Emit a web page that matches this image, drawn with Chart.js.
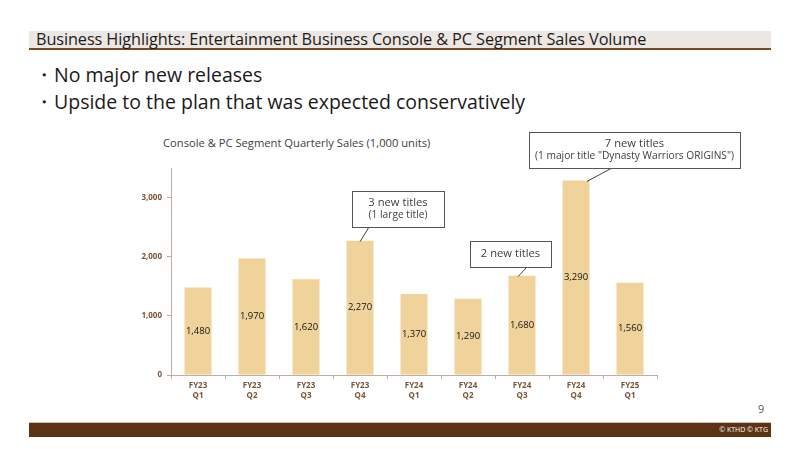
<!DOCTYPE html>
<html>
<head>
<meta charset="utf-8">
<script src="https://cdn.jsdelivr.net/npm/chart.js@4.4.1/dist/chart.umd.min.js"></script>
<style>
  html, body { margin: 0; padding: 0; background: #fff; }
  body { width: 800px; height: 449px; position: relative; overflow: hidden; font-family: "Open Sans", "Noto Sans", sans-serif; }
  #header { position: absolute; left: 29px; top: 31px; width: 742px; height: 17px; background: #ede7e3; border-bottom: 2px solid #7b4a1e; }
  #header span { position: absolute; left: 7px; top: -3px; font-size: 16.3px; color: #1a1a1a; white-space: nowrap; letter-spacing: -0.1px; }
  .bullet { position: absolute; left: 34px; font-size: 19.5px; color: #1a1a1a; white-space: nowrap; }
  #chartTitle { position: absolute; left: 163px; top: 135px; font-size: 11.2px; color: #404040; white-space: nowrap; }
  #pageNo { position: absolute; left: 758px; top: 401px; font-size: 11px; color: #555; }
  #footer { position: absolute; left: 29px; top: 422px; width: 742px; height: 14px; background: #5c3314; border-top: 1px solid #c9c0b8; }
  #footer span { position: absolute; right: 3px; top: 2px; font-size: 7px; color: #fff; }
  #chart { position: absolute; left: 0; top: 0; }
</style>
</head>
<body>
<div id="header"><span>Business Highlights: Entertainment Business Console &amp; PC Segment Sales Volume</span></div>
<div class="bullet" style="top:61px">・No major new releases</div>
<div class="bullet" style="top:88px">・Upside to the plan that was expected conservatively</div>
<div id="chartTitle">Console &amp; PC Segment Quarterly Sales (1,000 units)</div>
<canvas id="chart" width="800" height="449"></canvas>
<div id="pageNo">9</div>
<div id="footer"><span>© KTHD © KTG</span></div>

<script>
/* ----------------------------------------------------------
   Dados
   ---------------------------------------------------------- */
const quarters = [
  ['FY23', 'Q1'], ['FY23', 'Q2'], ['FY23', 'Q3'], ['FY23', 'Q4'],
  ['FY24', 'Q1'], ['FY24', 'Q2'], ['FY24', 'Q3'], ['FY24', 'Q4'],
  ['FY25', 'Q1'],
];
const sales = [1480, 1970, 1620, 2270, 1370, 1290, 1680, 3290, 1560];
const yTicks = [0, 1000, 2000, 3000];

// callouts: bar index, text lines
const calloutBars  = [3, 6, 7];
const calloutTexts = [
  ['3 new titles', '(1 large title)'],
  ['2 new titles'],
  ['7 new titles', '(1 major title "Dynasty Warriors ORIGINS")'],
];

/* ----------------------------------------------------------
   Layout das caixas (pixels)
   ---------------------------------------------------------- */
const calloutBoxes = [
  { x: 352, y: 191, w: 92,  h: 36, fromX: 369, dx: 0 },
  { x: 470, y: 241, w: 81,  h: 26, fromX: 527, dx: -4 },
  { x: 529, y: 132, w: 211, h: 36, fromX: 612, dx: 11 },
];

const brown = '#7a5434';
const fontFam = '"Open Sans", "Noto Sans", sans-serif';

const valueLabels = {
  id: 'valueLabels',
  afterDatasetsDraw(chart) {
    const { ctx } = chart;
    const meta = chart.getDatasetMeta(0);
    ctx.save();
    ctx.font = '9.5px ' + fontFam;
    ctx.fillStyle = '#111';
    ctx.textAlign = 'center';
    ctx.textBaseline = 'middle';
    meta.data.forEach((bar, i) => {
      const mid = (bar.y + bar.base) / 2;
      ctx.fillText(sales[i].toLocaleString('en-US'), bar.x, mid);
    });
    ctx.restore();
  },
};

const callouts = {
  id: 'callouts',
  afterDraw(chart) {
    const { ctx } = chart;
    const meta = chart.getDatasetMeta(0);
    ctx.save();
    calloutBars.forEach((idx, k) => {
      const b = calloutBoxes[k];
      const bar = meta.data[idx];
      // linha
      ctx.strokeStyle = '#404040';
      ctx.lineWidth = 1;
      ctx.beginPath();
      ctx.moveTo(b.fromX, b.y + b.h);
      ctx.lineTo(bar.x + b.dx, bar.y + 1);
      ctx.stroke();
      // caixa
      ctx.fillStyle = '#fff';
      ctx.fillRect(b.x, b.y, b.w, b.h);
      ctx.strokeStyle = '#555';
      ctx.strokeRect(b.x + 0.5, b.y + 0.5, b.w, b.h);
      // texto
      const lines = calloutTexts[k];
      ctx.fillStyle = '#404040';
      ctx.textAlign = 'center';
      ctx.textBaseline = 'middle';
      const lh = 13;
      const top = b.y + b.h / 2 - (lines.length - 1) * lh / 2;
      lines.forEach((t, j) => {
        ctx.font = (j === 0 ? '11.2px ' : '10.2px ') + fontFam;
        ctx.fillText(t, b.x + b.w / 2, top + j * lh);
      });
    });
    ctx.restore();
  },
};

new Chart(document.getElementById('chart'), {
  type: 'bar',
  data: {
    labels: quarters,
    datasets: [{
      data: sales,
      backgroundColor: '#efd39b',
      borderWidth: 0,
      categoryPercentage: 1,
      barPercentage: 0.5,
    }],
  },
  options: {
    responsive: false,
    animation: false,
    events: [],
    layout: { padding: { left: 131, right: 143, top: 168, bottom: 39 } },
    plugins: {
      legend: { display: false },
      tooltip: { enabled: false },
    },
    scales: {
      x: {
        afterFit: s => { s.height = 35; },
        border: { color: '#bfae9f' },
        grid: { display: true, drawOnChartArea: false, tickLength: 4, color: '#bfae9f' },
        ticks: { color: brown, font: { size: 8, family: fontFam, weight: 'bold' }, padding: 2, maxRotation: 0 },
      },
      y: {
        min: 0,
        max: 3500,
        afterFit: s => { s.width = 40; },
        afterBuildTicks: s => { s.ticks = yTicks.map(v => ({ value: v })); },
        border: { color: '#bfae9f' },
        grid: { display: true, drawOnChartArea: false, tickLength: 4, color: '#bfae9f' },
        ticks: {
          color: brown,
          font: { size: 8, family: fontFam, weight: 'bold' },
          padding: 5,
          callback: v => v.toLocaleString('en-US'),
        },
      },
    },
  },
  plugins: [valueLabels, callouts],
});
</script>
</body>
</html>
